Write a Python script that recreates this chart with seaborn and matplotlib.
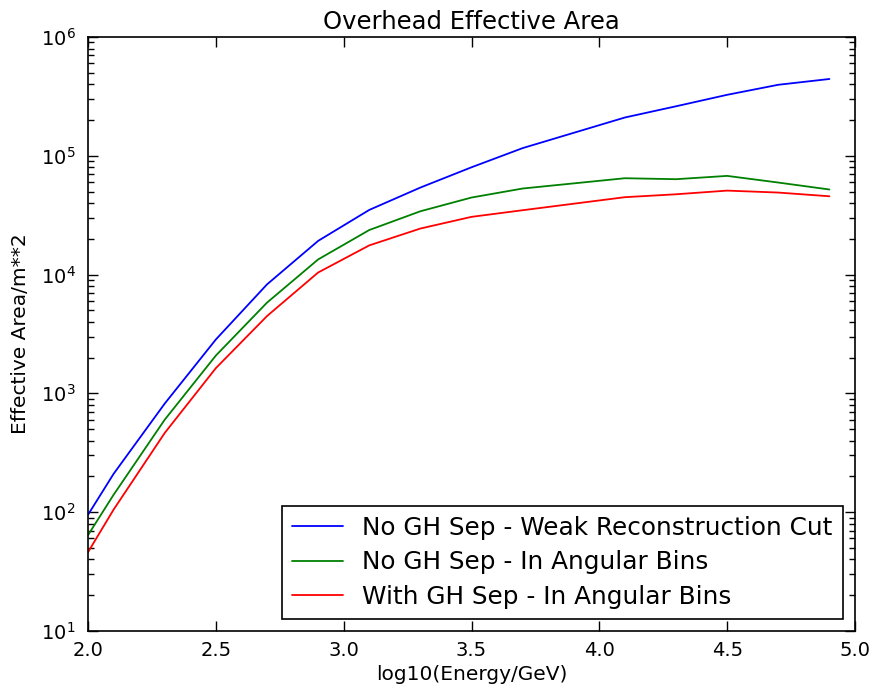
import numpy as np
import pandas as pd
import seaborn as sns
import matplotlib
matplotlib.use("Agg")
from matplotlib import pyplot as plt
from matplotlib.ticker import LogLocator

#data
energy = [2.0, 2.1, 2.3, 2.5, 2.7, 2.9, 3.1, 3.3, 3.5, 3.7, 4.1, 4.3, 4.5, 4.7, 4.9]
weakCut = [95, 210, 820, 2840, 8260, 19200, 35000, 54000, 80000, 116000,
           210000, 261000, 326000, 396000, 443000]
noSepAng = [64, 140, 600, 2080, 5800, 13400, 23700, 34100, 44500, 53000,
            64700, 63500, 67700, 59500, 52000]
withSepAng = [46, 105, 464, 1630, 4470, 10400, 17600, 24400, 30600, 34800,
              44800, 47400, 50900, 49000, 45600]
labels = ["No GH Sep - Weak Reconstruction Cut",
          "No GH Sep - In Angular Bins",
          "With GH Sep - In Angular Bins"]
colors = ["blue", "green", "red"]

df = pd.concat([
    pd.DataFrame({"energy": energy, "area": vals, "cut": lab})
    for vals, lab in zip([weakCut, noSepAng, withSepAng], labels)
])

sns.set_style("ticks")
plt.rcParams['font.family'] = ['DejaVu Sans']
plt.rcParams['text.color'] = 'black'
plt.rcParams['axes.labelcolor'] = 'black'
plt.rcParams['xtick.color'] = 'black'
plt.rcParams['ytick.color'] = 'black'
plt.rcParams['xtick.direction'] = 'in'
plt.rcParams['ytick.direction'] = 'in'

fig = plt.figure(figsize=(8.76, 6.85), dpi=100)
ax = fig.add_axes([0.1005, 0.079, 0.8755, 0.867])
sns.lineplot(data=df, x="energy", y="area", hue="cut", palette=colors,
             ax=ax, linewidth=1.3, estimator=None, sort=False)
ax.set_yscale("log")
ax.set_xlim(2.0, 5.0)
ax.set_ylim(10, 1e6)
ax.yaxis.set_major_locator(LogLocator(base=10, numticks=10))
ax.yaxis.set_minor_locator(LogLocator(base=10, subs=np.arange(2, 10), numticks=10))
ax.tick_params(which="both", top=True, right=True, labelsize=14)
ax.tick_params(axis="y", pad=9)
ax.tick_params(axis="x", pad=7)
ax.tick_params(which="major", length=7, width=1)
ax.tick_params(which="minor", length=4, width=1)
for s in ax.spines.values():
    s.set_linewidth(1.2)
    s.set_color("black")

ax.set_title("Overhead Effective Area", fontsize=17.5, pad=6)
ax.set_xlabel("log10(Energy/GeV)", fontsize=14.5, labelpad=4)
ax.set_ylabel("Effective Area/m**2", fontsize=14.5, labelpad=8)
leg = ax.legend(loc="lower right", fontsize=17.8, frameon=True, fancybox=False,
                edgecolor="black", handlelength=2.05, handletextpad=0.8,
                borderpad=0.4, labelspacing=0.42, borderaxespad=0.5)
leg.get_frame().set_linewidth(1.2)
leg.get_frame().set_alpha(1)

fig.savefig("out.png", dpi=100)
